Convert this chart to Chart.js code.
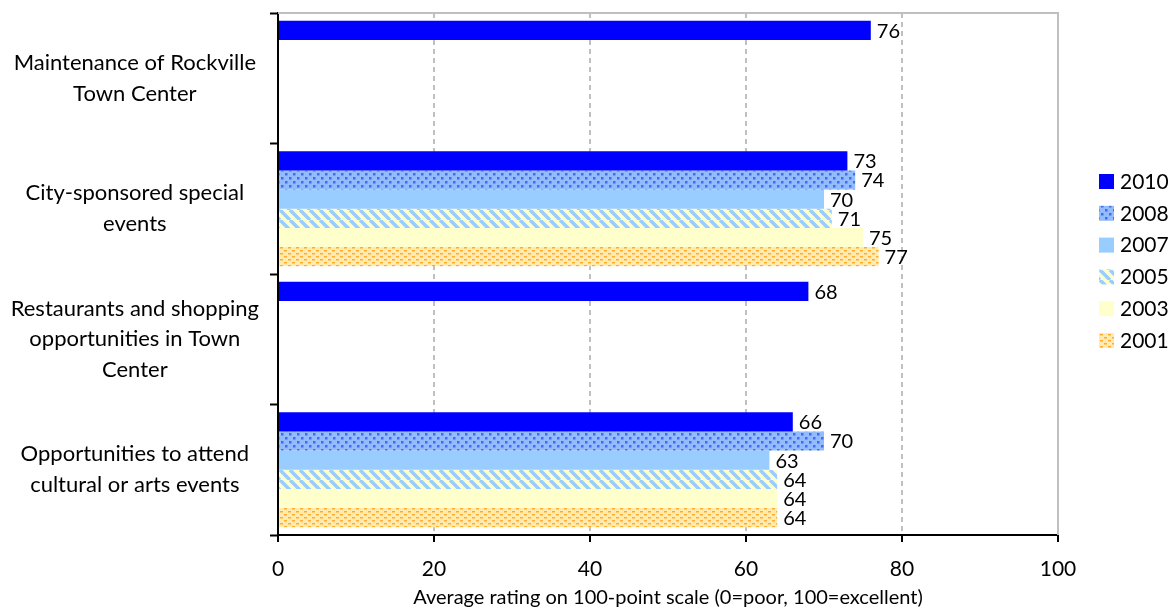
<!DOCTYPE html>
<html>
<head>
<meta charset="utf-8">
<script src="https://cdn.jsdelivr.net/npm/chart.js@4.4.1/dist/chart.umd.min.js"></script>
<style>
  html, body { margin: 0; padding: 0; background: #fff; }
  #wrap { width: 1172px; height: 610px; }
</style>
</head>
<body>
<div id="wrap"><canvas id="ratingsChart"></canvas></div>
<script>
// Survey ratings by topic and year
const categories = [
    ['Maintenance of Rockville', 'Town Center'],
    ['City-sponsored special', 'events'],
    ['Restaurants and shopping', 'opportunities in Town', 'Center'],
    ['Opportunities to attend', 'cultural or arts events']
];
const years = ['2010', '2008', '2007', '2005', '2003', '2001'];
const values2010 = [76, 73, 68, 66];
const values2008 = [null, 74, null, 70];
const values2007 = [null, 70, null, 63];
const values2005 = [null, 71, null, 64];
const values2003 = [null, 75, null, 64];
const values2001 = [null, 77, null, 64];
const xTicks = [0, 20, 40, 60, 80, 100];

const FONT = 'Lato';

// small tiled fills for the patterned series
function makePattern(w, h, paint) {
    const c = document.createElement('canvas');
    c.width = w;
    c.height = h;
    const g = c.getContext('2d');
    paint(g);
    return g.createPattern(c, 'repeat');
}

const dotsBlue = makePattern(8, 8, g => {
    g.fillStyle = '#94bbfc';
    g.fillRect(0, 0, 8, 8);
    g.fillStyle = '#3d6ff5';
    g.fillRect(1, 1, 2.5, 2.5);
    g.fillRect(5, 5, 2.5, 2.5);
});

const stripes = makePattern(10, 10, g => {
    g.fillStyle = '#ffffcc';
    g.fillRect(0, 0, 10, 10);
    g.strokeStyle = '#99ccff';
    g.lineWidth = 3.5;
    for (let k = -1; k <= 1; k++) {
        g.beginPath();
        g.moveTo(k * 10, 0);
        g.lineTo(k * 10 + 10, 10);
        g.stroke();
    }
});

const dashesOrange = makePattern(8, 6, g => {
    g.fillStyle = '#ffebb0';
    g.fillRect(0, 0, 8, 6);
    g.fillStyle = '#ffab2e';
    g.fillRect(0, 1, 3, 1.5);
    g.fillRect(4, 4, 3, 1.5);
});

const seriesValues = [values2010, values2008, values2007, values2005, values2003, values2001];
const seriesFills = ['#0000ff', dotsBlue, '#99ccff', stripes, '#ffffcc', dashesOrange];

const datasets = years.map((year, i) => ({
    label: year,
    data: seriesValues[i],
    backgroundColor: seriesFills[i],
    borderWidth: 0,
    barPercentage: 1,
    categoryPercentage: 0.88
}));

// value printed at the end of each bar
const valueLabels = {
    id: 'valueLabels',
    afterDatasetsDraw(chart) {
        const ctx = chart.ctx;
        ctx.save();
        ctx.font = '20px ' + FONT;
        ctx.fillStyle = '#000';
        ctx.textBaseline = 'middle';
        ctx.textAlign = 'left';
        chart.data.datasets.forEach((ds, i) => {
            chart.getDatasetMeta(i).data.forEach((bar, j) => {
                if (ds.data[j] == null) return;
                ctx.fillText(ds.data[j], bar.x + 6, bar.y + 1);
            });
        });
        ctx.restore();
    }
};

// light frame on the top and right of the plot
const plotFrame = {
    id: 'plotFrame',
    beforeDatasetsDraw(chart) {
        const {ctx, chartArea} = chart;
        ctx.save();
        ctx.strokeStyle = '#bfbfbf';
        ctx.lineWidth = 2;
        ctx.beginPath();
        ctx.moveTo(chartArea.left, chartArea.top);
        ctx.lineTo(chartArea.right, chartArea.top);
        ctx.lineTo(chartArea.right, chartArea.bottom);
        ctx.stroke();
        ctx.restore();
    }
};

// legend column on the right
const sideLegend = {
    id: 'sideLegend',
    afterDraw(chart) {
        const ctx = chart.ctx;
        ctx.save();
        ctx.font = '21px ' + FONT;
        ctx.textBaseline = 'middle';
        ctx.textAlign = 'left';
        chart.data.datasets.forEach((ds, i) => {
            const y = 181 + i * 31.8;
            ctx.fillStyle = ds.backgroundColor;
            ctx.fillRect(1099, y - 7, 15, 15);
            ctx.fillStyle = '#000';
            ctx.fillText(ds.label, 1120, y + 1);
        });
        ctx.restore();
    }
};

const ctx = document.getElementById('ratingsChart').getContext('2d');
const ratingsChart = new Chart(ctx, {
    type: 'bar',
    data: {
        labels: categories,
        datasets: datasets
    },
    plugins: [plotFrame, valueLabels, sideLegend],
    options: {
        indexAxis: 'y',
        responsive: true,
        maintainAspectRatio: false,
        animation: false,
        events: [],
        layout: {
            padding: { top: 13, right: 114, bottom: 0, left: 0 }
        },
        plugins: {
            legend: { display: false },
            tooltip: { enabled: false }
        },
        scales: {
            x: {
                min: 0,
                max: 100,
                afterFit(scale) {
                    scale.height = 75;
                    scale.paddingLeft = 0;
                    scale.paddingRight = 0;
                },
                afterBuildTicks(scale) { scale.ticks = xTicks.map(v => ({ value: v })); },
                ticks: {
                    color: '#000',
                    padding: 15,
                    font: { family: FONT, size: 21 }
                },
                grid: {
                    color: c => (c.tick && (c.tick.value === 0 || c.tick.value === 100)) ? 'rgba(0,0,0,0)' : '#c0c0c0',
                    lineWidth: 2,
                    tickColor: '#000',
                    tickLength: 7,
                    tickWidth: 2,
                    tickBorderDash: []
                },
                border: {
                    color: '#000',
                    width: 2,
                    dash: [5, 4]
                },
                title: {
                    display: true,
                    text: 'Average rating on 100-point scale (0=poor, 100=excellent)',
                    color: '#000',
                    font: { family: FONT, size: 20 },
                    padding: { top: 4, bottom: 0 }
                }
            },
            y: {
                afterFit(scale) {
                    scale.width = 278;
                    scale.paddingTop = 0;
                    scale.paddingBottom = 0;
                },
                ticks: {
                    color: '#000',
                    crossAlign: 'center',
                    padding: 11,
                    font: { family: FONT, size: 22, lineHeight: 1.4 }
                },
                grid: {
                    offset: true,
                    drawOnChartArea: false,
                    tickColor: '#000',
                    tickLength: 8,
                    tickWidth: 2
                },
                border: {
                    color: '#000',
                    width: 2
                }
            }
        }
    }
});
</script>
</body>
</html>
